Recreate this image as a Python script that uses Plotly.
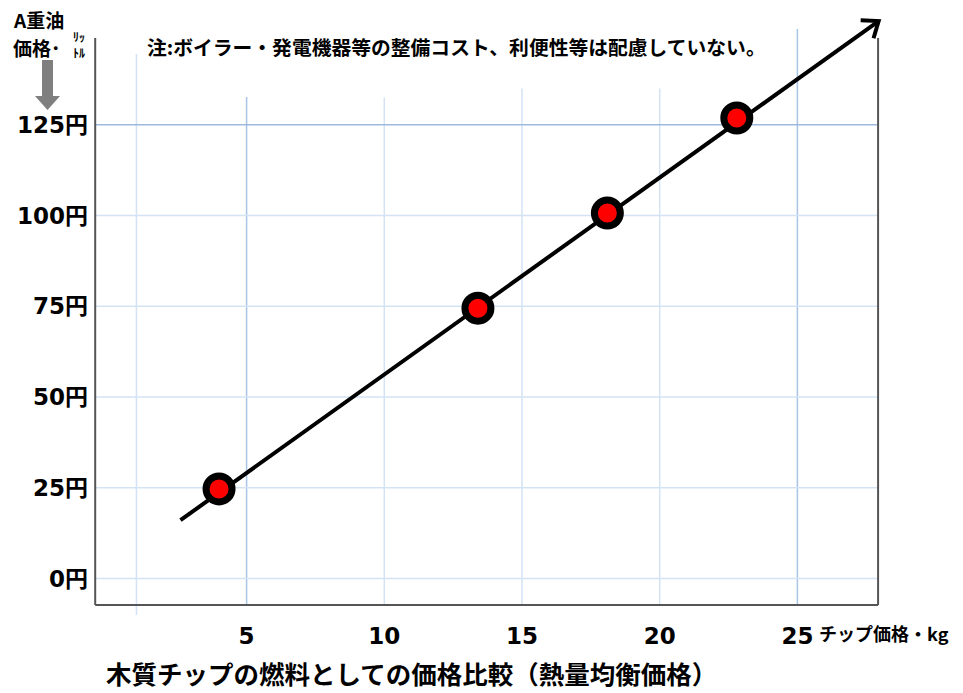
import math
import plotly.graph_objects as go

# ---- data ----
chip_price = [4.0, 13.4, 18.1, 22.8]          # 円/kg
oil_price = [24.7, 74.5, 100.7, 126.9]         # 円/ﾘｯﾄﾙ
trend_x = [2.6, 27.95]
trend_y = [16.1, 153.6]
x_ticks = [5, 10, 15, 20, 25]
x_ticktext = ["5", "10", "15", "20", "25"]
y_ticks = [0, 25, 50, 75, 100, 125]
y_ticktext = ["0円", "25円", "50円", "75円", "100円", "125円"]
x_grid = [1, 5, 10, 15, 20, 25]
y_grid = [0, 25, 50, 75, 100, 125]

title_text = "木質チップの燃料としての価格比較（熱量均衡価格）"
note_text = "注:ボイラー・発電機器等の整備コスト、利便性等は配慮していない。"

W, H = 963, 693
L, R, T, B = 93, 910, 10, 620          # plot area in pixels
XR = [-0.577, 29.089]
YR = [-11.40, 156.64]
FONT = "Noto Sans CJK JP"
NUMFONT = "DejaVu Sans, Noto Sans CJK JP"

def pxp(px):  # pixel -> paper x
    return (px - L) / (R - L)

def pyp(py):  # pixel -> paper y
    return (B - py) / (B - T)

# data <-> pixel scale (for the arrow head geometry only)
sx = (R - L) / (XR[1] - XR[0])
sy = (B - T) / (YR[1] - YR[0])

fig = go.Figure()

# trend line
fig.add_trace(go.Scatter(
    x=trend_x, y=trend_y, mode="lines",
    line=dict(color="black", width=4),
    hoverinfo="skip", showlegend=False, cliponaxis=False,
))

# open arrow head at the end of the trend line
dxp = (trend_x[1] - trend_x[0]) * sx
dyp = (trend_y[1] - trend_y[0]) * sy
ang = math.atan2(dyp, dxp)
arm, spread = 18.0, math.radians(38)
hx, hy = [], []
for s in (+1, -1):
    a = ang + math.pi + s * spread
    hx.append(trend_x[1] + arm * math.cos(a) / sx)
    hy.append(trend_y[1] + arm * math.sin(a) / sy)
fig.add_trace(go.Scatter(
    x=[hx[0], trend_x[1], hx[1]], y=[hy[0], trend_y[1], hy[1]],
    mode="lines", line=dict(color="black", width=4),
    hoverinfo="skip", showlegend=False, cliponaxis=False,
))

# data points
fig.add_trace(go.Scatter(
    x=chip_price, y=oil_price, mode="markers",
    marker=dict(size=26, color="#ff0000", line=dict(color="black", width=7)),
    showlegend=False, cliponaxis=False,
))

shapes = []
x_left, x_right = XR[0] + 0.08, 27.93
y_bottom, y_top = -7.27, 148.9
grid_light = "#d3e3f4"
grid_mid = "#a8c5e6"
vtops = {1: 144.5, 5: 132.7, 10: 132.5, 15: 135.0, 20: 135.0, 25: 151.4}
vcols = {1: grid_light, 5: grid_mid, 10: grid_light, 15: grid_light, 20: grid_light, 25: grid_mid}
for gx in x_grid:
    y0 = y_bottom if gx != 1 else -10.0
    shapes.append(dict(type="line", xref="x", yref="y", x0=gx, x1=gx, y0=y0, y1=vtops[gx],
                       line=dict(color=vcols[gx], width=1.5), layer="below"))
for gy in y_grid:
    col = "#9db9dc" if gy == 125 else grid_light
    shapes.append(dict(type="line", xref="x", yref="y", x0=x_left, x1=x_right, y0=gy, y1=gy,
                       line=dict(color=col, width=1.5), layer="below"))
# frame (left, bottom, right)
frame_col = "#555555"
shapes.append(dict(type="line", xref="x", yref="y", x0=x_left, x1=x_left, y0=y_bottom, y1=y_top,
                   line=dict(color=frame_col, width=2)))
shapes.append(dict(type="line", xref="x", yref="y", x0=x_left, x1=x_right, y0=y_bottom, y1=y_bottom,
                   line=dict(color=frame_col, width=2)))
shapes.append(dict(type="line", xref="x", yref="y", x0=x_right, x1=x_right, y0=y_bottom, y1=y_top,
                   line=dict(color=frame_col, width=2)))

# grey down arrow at top-left
ap = [(42, 60), (53, 60), (53, 96), (60, 96), (47.5, 110), (35, 96), (42, 96)]
path = "M " + " L ".join(f"{pxp(a):.5f},{pyp(b):.5f}" for a, b in ap) + " Z"
shapes.append(dict(type="path", xref="paper", yref="paper", path=path,
                   fillcolor="#7f7f7f", line=dict(width=0)))

annotations = [
    dict(text="A重油", x=pxp(11), y=pyp(19), xref="paper", yref="paper",
         xanchor="left", yanchor="middle", showarrow=False,
         font=dict(family=FONT, size=19, color="black", weight="bold")),
    dict(text="価格･", x=pxp(11), y=pyp(47), xref="paper", yref="paper",
         xanchor="left", yanchor="middle", showarrow=False,
         font=dict(family=FONT, size=19, color="black", weight="bold")),
    dict(text="ﾘｯ<br>ﾄﾙ", x=pxp(71), y=pyp(45), xref="paper", yref="paper",
         xanchor="left", yanchor="middle", showarrow=False,
         font=dict(family=FONT, size=12, color="black", weight="bold")),
    dict(text=note_text, x=pxp(145), y=pyp(46), xref="paper", yref="paper",
         xanchor="left", yanchor="middle", showarrow=False,
         font=dict(family=FONT, size=19.8, color="black", weight="bold")),
    dict(text="チップ価格・kg", x=pxp(817), y=pyp(633), xref="paper", yref="paper",
         xanchor="left", yanchor="middle", showarrow=False,
         font=dict(family=FONT, size=18, color="black", weight="bold")),
    dict(text=title_text, x=pxp(104), y=pyp(693), xref="paper", yref="paper",
         xanchor="left", yanchor="bottom", showarrow=False,
         font=dict(family=FONT, size=25.5, color="black", weight="bold")),
]

fig.update_layout(
    width=W, height=H,
    margin=dict(l=L, r=W - R, t=T, b=H - B, pad=0),
    paper_bgcolor="white", plot_bgcolor="rgba(0,0,0,0)",
    shapes=shapes, annotations=annotations,
    xaxis=dict(range=XR, tickvals=x_ticks, ticktext=x_ticktext, showgrid=False,
               zeroline=False, showline=False, ticks="",
               tickfont=dict(family=NUMFONT, size=23, color="black", weight="bold")),
    yaxis=dict(range=YR, tickvals=y_ticks, ticktext=y_ticktext, showgrid=False,
               zeroline=False, showline=False, ticks="", ticklabelstandoff=4,
               tickfont=dict(family=NUMFONT, size=23, color="black", weight="bold")),
    font=dict(family=FONT),
)

fig.write_html("out.html")
